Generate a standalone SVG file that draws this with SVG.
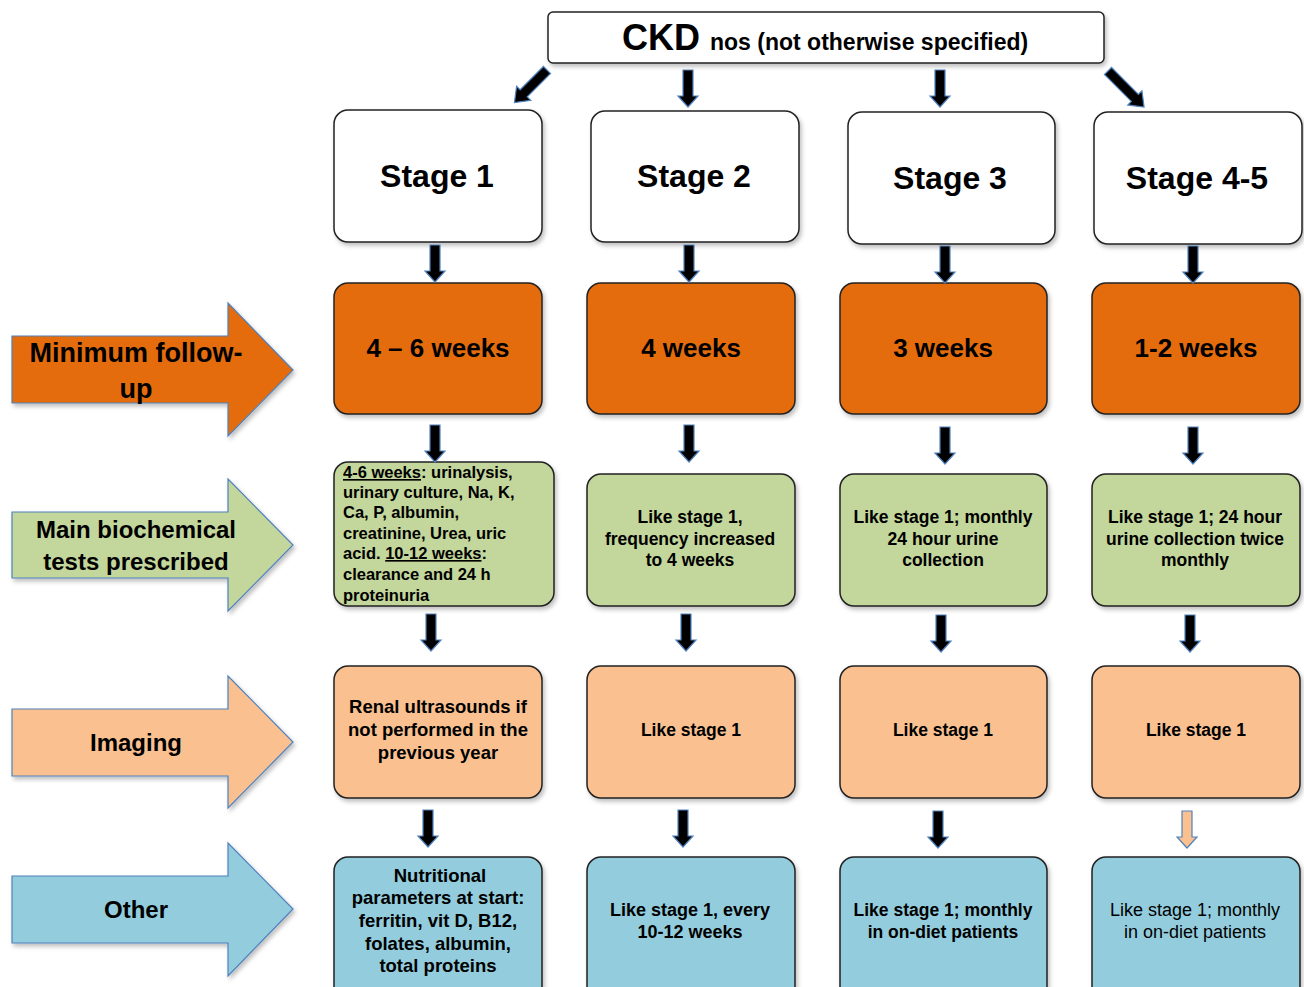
<svg xmlns="http://www.w3.org/2000/svg" width="1304" height="987" viewBox="0 0 1304 987">
<defs>
<filter id="sh" x="-10%" y="-10%" width="125%" height="125%">
<feDropShadow dx="2" dy="3" stdDeviation="2" flood-color="#000" flood-opacity="0.25"/>
</filter>
<path id="dn" d="M-5,0 H5 V26 H10 L0,37 L-10,26 H-5 Z"/>
<style>
.box{stroke:#222;stroke-width:1.5;filter:url(#sh)}
.white{fill:#fff}
.org{fill:#E46C0A}
.grn{fill:#C3D69B}
.pch{fill:#FAC090}
.blu{fill:#93CDDD}
.larr{stroke:#4F81BD;stroke-width:1.2;filter:url(#sh)}
.ar{fill:#000;stroke:#4F81BD;stroke-width:1.2}
.ar2{fill:#FAC090;stroke:#4F81BD;stroke-width:1.2}
text{font-family:"Liberation Sans",Arial,sans-serif;fill:#000;font-weight:bold}
.stg{font-size:32px;text-anchor:middle}
.wk{font-size:26px;text-anchor:middle}
.b{font-size:17.5px;text-anchor:middle}
.bb{font-size:18.5px;text-anchor:middle}
.bl{font-size:16.5px}
.n{font-size:18px;font-weight:normal;text-anchor:middle}
.lab{font-size:24px;text-anchor:middle}
</style>
</defs>

<g id="header">
<rect x="548" y="12" width="556" height="51" rx="5" class="box white"/>
<text x="622" y="50" style="font-size:36px">CKD <tspan style="font-size:23px">nos (not otherwise specified)</tspan></text>
</g>

<g id="label-minimum">
<path class="larr" fill="#E46C0A" d="M12,336 H228 V303 L293,370 L228,436 V403 H12 Z"/>
<text class="lab" x="136" y="362" style="font-size:27px">Minimum follow-</text>
<text class="lab" x="136" y="398" style="font-size:27px">up</text>
</g>
<g id="label-biochem">
<path class="larr" fill="#C3D69B" d="M12,512 H228 V479 L293,545 L228,611 V578 H12 Z"/>
<text class="lab" x="136" y="538">Main biochemical</text>
<text class="lab" x="136" y="570">tests prescribed</text>
</g>
<g id="label-imaging">
<path class="larr" fill="#FAC090" d="M12,709 H228 V676 L293,742 L228,808 V776 H12 Z"/>
<text class="lab" x="136" y="751">Imaging</text>
</g>
<g id="label-other">
<path class="larr" fill="#93CDDD" d="M12,876 H228 V843 L293,909 L228,976 V943 H12 Z"/>
<text class="lab" x="136" y="918">Other</text>
</g>

<g id="stage1">
<rect x="334" y="110" width="208" height="132" rx="14" class="box white"/>
<text class="stg" x="437" y="187">Stage 1</text>
</g>
<g id="stage2">
<rect x="591" y="111" width="208" height="131" rx="14" class="box white"/>
<text class="stg" x="694" y="187">Stage 2</text>
</g>
<g id="stage3">
<rect x="848" y="112" width="207" height="132" rx="14" class="box white"/>
<text class="stg" x="950" y="189">Stage 3</text>
</g>
<g id="stage45">
<rect x="1094" y="112" width="208" height="132" rx="14" class="box white"/>
<text class="stg" x="1197" y="189">Stage 4-5</text>
</g>

<g id="fu1">
<rect x="334" y="283" width="208" height="131" rx="14" class="box org"/>
<text class="wk" x="438" y="357">4 – 6 weeks</text>
</g>
<g id="fu2">
<rect x="587" y="283" width="208" height="131" rx="14" class="box org"/>
<text class="wk" x="691" y="357">4 weeks</text>
</g>
<g id="fu3">
<rect x="840" y="283" width="207" height="131" rx="14" class="box org"/>
<text class="wk" x="943" y="357">3 weeks</text>
</g>
<g id="fu4">
<rect x="1092" y="283" width="208" height="131" rx="14" class="box org"/>
<text class="wk" x="1196" y="357">1-2 weeks</text>
</g>

<g id="bio1">
<rect x="334" y="462" width="220" height="144" rx="14" class="box grn"/>
<text class="bl" x="343" y="478"><tspan text-decoration="underline">4-6 weeks</tspan>: urinalysis,</text>
<text class="bl" x="343" y="498">urinary culture, Na, K,</text>
<text class="bl" x="343" y="518">Ca, P, albumin,</text>
<text class="bl" x="343" y="539">creatinine, Urea, uric</text>
<text class="bl" x="343" y="559">acid. <tspan text-decoration="underline">10-12 weeks</tspan>:</text>
<text class="bl" x="343" y="580">clearance and 24 h</text>
<text class="bl" x="343" y="601">proteinuria</text>
</g>
<g id="bio2">
<rect x="587" y="474" width="208" height="132" rx="14" class="box grn"/>
<text class="b" x="690" y="523">Like stage 1,</text>
<text class="b" x="690" y="545">frequency increased</text>
<text class="b" x="690" y="566">to 4 weeks</text>
</g>
<g id="bio3">
<rect x="840" y="474" width="207" height="132" rx="14" class="box grn"/>
<text class="b" x="943" y="523">Like stage 1; monthly</text>
<text class="b" x="943" y="545">24 hour urine</text>
<text class="b" x="943" y="566">collection</text>
</g>
<g id="bio4">
<rect x="1092" y="474" width="208" height="132" rx="14" class="box grn"/>
<text class="b" x="1195" y="523">Like stage 1;  24 hour</text>
<text class="b" x="1195" y="545">urine collection twice</text>
<text class="b" x="1195" y="566">monthly</text>
</g>

<g id="img1">
<rect x="334" y="666" width="208" height="132" rx="14" class="box pch"/>
<text class="bb" x="438" y="713">Renal ultrasounds if</text>
<text class="bb" x="438" y="736">not performed in the</text>
<text class="bb" x="438" y="759">previous year</text>
</g>
<g id="img2">
<rect x="587" y="666" width="208" height="132" rx="14" class="box pch"/>
<text class="b" x="691" y="736">Like stage 1</text>
</g>
<g id="img3">
<rect x="840" y="666" width="207" height="132" rx="14" class="box pch"/>
<text class="b" x="943" y="736">Like stage 1</text>
</g>
<g id="img4">
<rect x="1092" y="666" width="208" height="132" rx="14" class="box pch"/>
<text class="b" x="1196" y="736">Like stage 1</text>
</g>

<g id="oth1">
<rect x="334" y="857" width="208" height="150" rx="14" class="box blu"/>
<text class="bb" x="440" y="882">Nutritional</text>
<text class="bb" x="438" y="904">parameters at start:</text>
<text class="bb" x="438" y="927">ferritin, vit D, B12,</text>
<text class="bb" x="438" y="950">folates, albumin,</text>
<text class="bb" x="438" y="972">total proteins</text>
</g>
<g id="oth2">
<rect x="587" y="857" width="208" height="150" rx="14" class="box blu"/>
<text class="b" x="690" y="916" style="font-size:18px">Like stage 1, every</text>
<text class="b" x="690" y="938" style="font-size:18px">10-12 weeks</text>
</g>
<g id="oth3">
<rect x="840" y="857" width="207" height="150" rx="14" class="box blu"/>
<text class="b" x="943" y="916">Like stage 1; monthly</text>
<text class="b" x="943" y="938">in on-diet patients</text>
</g>
<g id="oth4">
<rect x="1092" y="857" width="208" height="150" rx="14" class="box blu"/>
<text class="n" x="1195" y="916">Like stage 1; monthly</text>
<text class="n" x="1195" y="938">in on-diet patients</text>
</g>

<g id="connectors">
<path class="ar" d="M-5,0 H5 V33 H10 L0,46 L-10,33 H-5 Z" transform="translate(547,70) rotate(45)"/>
<use href="#dn" class="ar" transform="translate(688,70)"/>
<use href="#dn" class="ar" transform="translate(940,70)"/>
<path class="ar" d="M-5,0 H5 V38 H10 L0,51 L-10,38 H-5 Z" transform="translate(1108,71) rotate(-45)"/>

<use href="#dn" class="ar" transform="translate(435,245)"/>
<use href="#dn" class="ar" transform="translate(689,245)"/>
<use href="#dn" class="ar" transform="translate(945,246)"/>
<use href="#dn" class="ar" transform="translate(1193,246)"/>

<use href="#dn" class="ar" transform="translate(435,425)"/>
<use href="#dn" class="ar" transform="translate(689,425)"/>
<use href="#dn" class="ar" transform="translate(945,427)"/>
<use href="#dn" class="ar" transform="translate(1193,427)"/>

<use href="#dn" class="ar" transform="translate(431,614)"/>
<use href="#dn" class="ar" transform="translate(686,614)"/>
<use href="#dn" class="ar" transform="translate(941,615)"/>
<use href="#dn" class="ar" transform="translate(1190,615)"/>

<use href="#dn" class="ar" transform="translate(428,810)"/>
<use href="#dn" class="ar" transform="translate(683,810)"/>
<use href="#dn" class="ar" transform="translate(938,811)"/>
<use href="#dn" class="ar2" transform="translate(1187,811)"/>
</g>
</svg>
